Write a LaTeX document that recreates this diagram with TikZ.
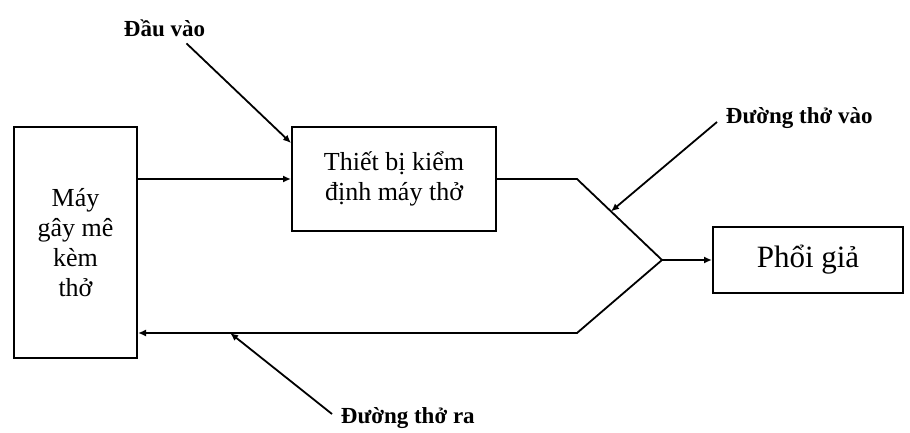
\documentclass[tikz,border=0pt]{standalone}
\usepackage{fontspec}
\setmainfont{Liberation Serif}
\usetikzlibrary{arrows.meta, calc}

\begin{document}
\begin{tikzpicture}[x = 0.5pt, y = -0.5pt, >={Latex[length=4pt, width=3.5pt]}, line width = 0.9pt,
  box/.style = {draw, line width = 1pt, align = center, inner sep = 0pt, font = \fontsize{13}{15}\selectfont},
  lbl/.style = {anchor = west, inner sep = 0pt, font = \fontsize{11.5}{13}\selectfont\bfseries}]

\useasboundingbox (0, 0) rectangle (910, 433);

\node[box, minimum width = 61.5pt, minimum height = 115.5pt] (may) at (75.5, 242.5) {Máy\\gây mê\\kèm\\thở};
\node[box, minimum width = 102pt, minimum height = 51.5pt] (thietbi) at (394, 179) {Thiết bị kiểm\\định máy thở};
\node[box, minimum width = 95pt, minimum height = 33pt, font = \fontsize{15.5}{17}\selectfont] (phoi) at (808, 260) {Phổi giả};

\coordinate (noi) at (662, 260);
\coordinate (vao) at (577, 179);
\coordinate (ra) at (577, 333);

\draw[->] (may.east |- thietbi.west) -- (thietbi.west);
\draw (thietbi.east) -- (vao) -- (noi);
\draw[->] (noi) -- (phoi.west);
\draw[->] (noi) -- (ra) -- (ra -| may.east);

\node[lbl] (dauvao) at (123, 28) {Đầu vào};
\node[lbl] (duongvao) at (725, 118) {Đường thở vào};
\node[lbl] (duongra) at (340, 418) {Đường thở ra};

\draw[->] ([xshift = 11pt, yshift = -3pt]dauvao.south) -- ([yshift = 18pt]thietbi.west);
\draw[->] ([xshift = -4pt, yshift = -2pt]duongvao.west) -- ($(vao)!0.4!(noi)$);
\draw[->] ([xshift = -4pt, yshift = 2pt]duongra.west) -- ($(ra)!0.79!(ra -| may.east)$);

\end{tikzpicture}
\end{document}
